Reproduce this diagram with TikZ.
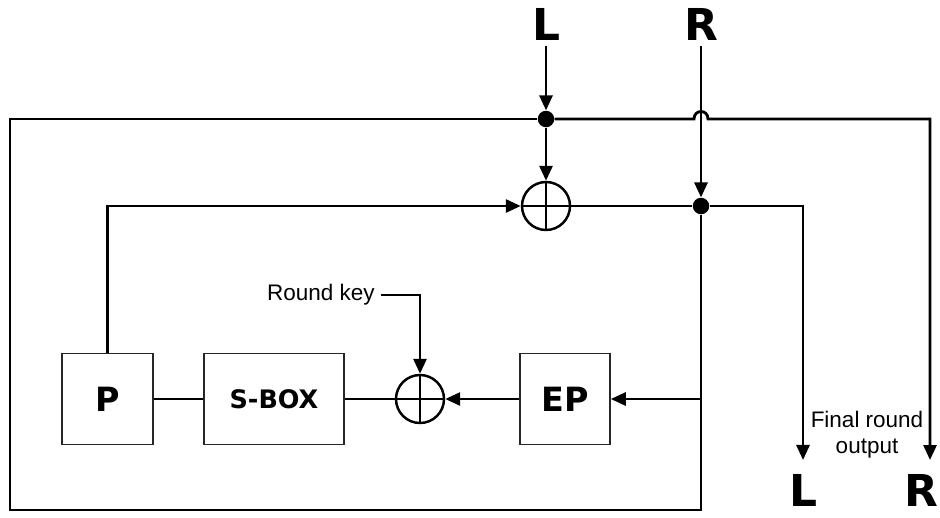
\documentclass[tikz,border=0pt]{standalone}
\usepackage{fontspec}
\setmainfont{Liberation Sans}
\newfontfamily\heavyfont{DejaVu Sans}
\usepackage{tikz}
\usetikzlibrary{positioning,arrows.meta,calc}

\begin{document}
\begin{tikzpicture}[
    x=0.2mm, y=-0.2mm,
    >={Triangle[length=3mm,width=2.6mm]},
    every node/.style = {font=\fontsize{12.8}{14.8}\selectfont},
    box/.style        = {rectangle, draw=black!85, line width=0.9pt, minimum width=18.2mm,
                          minimum height=18.2mm, inner sep=0pt,
                          font=\heavyfont\bfseries\fontsize{19}{22}\selectfont},
    xor/.style        = {circle, draw, line width=1.4pt, minimum size=9.6mm, inner sep=0pt,
                          path picture={\draw[line width=1.4pt]
                            (path picture bounding box.north) -- (path picture bounding box.south)
                            (path picture bounding box.west) -- (path picture bounding box.east);}},
    dot/.style        = {circle, fill=black, minimum size=3.3mm, inner sep=0pt},
    io/.style         = {font=\heavyfont\bfseries\fontsize{25}{30}\selectfont, anchor=base},
    outlabel/.style   = {io, inner sep=0pt, outer ysep=2.8mm},
    wire/.style       = {line width=1.6pt, line join=miter},
    arr/.style        = {->, wire},
]
\useasboundingbox (0,0) rectangle (940,517);

% Inputs and the two junctions
\node[io] (Lin) at (546,40) {L};
\node[io] (Rin) at (701,40) {R};
\node[dot] (J1) at (546,119) {};
\node[dot] (J2) at (701,206) {};
\node[xor] (X1) at (546,206) {};

% Round function
\node[box] (P)    at (107.5,399) {P};
\node[box, minimum width=28mm, font=\heavyfont\bfseries\fontsize{14.5}{17}\selectfont] (SBOX) at (274,399) {S-BOX};
\node[xor] (X2)   at (420,399) {};
\node[box, minimum width=18mm] (EP) at (565,399) {EP};
\node (KEY) at (321,295) {Round key};
\coordinate (TAP) at (701,399);

% Outputs (final round)
\node[outlabel] (Lout) at (803,506) {L};
\node[outlabel, anchor=base east] (Rout) at (939,506) {R};
\coordinate (RDROP) at (930,460);
\node[align=center] (FINAL) at (867,435) {Final round\\output};

\draw[arr] (Lin.south) -- (J1);
\draw[arr] (J1) -- (X1.north);
\draw[arr] (Rin.south) -- (J2);
\draw[arr] (J1) -- (694,119) .. controls (694,109) and (708,109) .. (708,119) -| (RDROP);
\draw[wire] (J2) -- (TAP) -- (701,510) -- (10,510) -- (10,119) -- (J1);
\draw[arr] (X1.east) -- (J2) -| (Lout.north);

\draw[arr] (TAP) -- (EP.east);
\draw[arr] (EP.west) -- (X2.east);
\draw[arr] (KEY.east) -| (X2.north);
\draw[wire] (X2.west) -- (SBOX.east);
\draw[wire] (SBOX.west) -- (P.east);
\draw[arr] (P.north) |- (X1.west);

\end{tikzpicture}
\end{document}
